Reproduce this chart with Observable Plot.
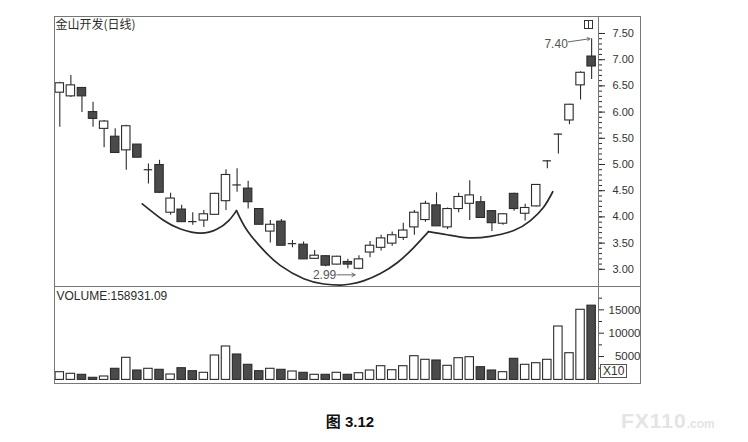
<!DOCTYPE html>
<html><head><meta charset="utf-8">
<script src="https://cdn.jsdelivr.net/npm/d3@7"></script>
<script src="https://cdn.jsdelivr.net/npm/@observablehq/plot@0.6"></script>
<style>
body{margin:0;background:#fff;}
#wrap{position:relative;width:748px;height:442px;overflow:hidden;font-family:"Liberation Sans",Arial,sans-serif;color:#2b2b2b;}
.abs{position:absolute;}
</style></head><body><div id="wrap"></div>
<script>
// ---- data ----
const title = "金山开发(日线)";
const volumeTitle = "VOLUME:158931.09";
const volumeUnit = "X10";
const caption = "图 3.12";
const watermark = "FX110";
const watermarkSuffix = ".com";

const opens  = [6.37,6.30,6.46,6.00,5.68,5.53,5.27,5.38,4.90,4.99,4.08,4.14,3.92,3.93,4.04,4.30,4.62,4.54,4.15,3.72,3.91,3.49,3.47,3.20,3.25,3.09,3.14,3.01,3.32,3.41,3.49,3.60,3.80,3.94,4.22,3.80,4.15,4.25,4.28,4.11,3.87,4.44,4.06,4.20,5.07,5.58,5.84,6.51,7.06];
const highs  = [6.57,6.70,6.47,6.19,5.84,5.68,5.75,5.38,5.01,5.08,4.45,4.22,4.08,4.12,4.45,4.90,4.92,4.68,4.16,3.93,3.95,3.55,3.52,3.36,3.26,3.25,3.19,3.26,3.53,3.65,3.71,3.88,4.12,4.30,4.46,4.17,4.45,4.69,4.39,4.12,4.06,4.45,4.24,4.62,5.07,5.58,6.15,6.77,7.40];
const lows   = [5.71,6.28,5.99,5.71,5.32,5.21,4.89,5.13,4.63,4.45,4.03,3.90,3.84,3.80,4.03,4.12,4.47,4.15,3.85,3.50,3.45,3.41,3.19,3.19,3.05,3.08,3.01,2.99,3.22,3.35,3.44,3.55,3.65,3.90,3.82,3.76,4.08,3.93,3.98,3.72,3.84,4.11,3.92,4.19,4.92,5.20,5.76,6.23,6.62];
const closes = [6.55,6.51,6.30,5.87,5.82,5.22,5.73,5.13,4.90,4.46,4.35,3.90,3.91,4.05,4.44,4.80,4.61,4.28,3.85,3.85,3.45,3.49,3.19,3.26,3.07,3.24,3.09,3.19,3.45,3.59,3.65,3.74,4.08,4.25,3.82,4.15,4.38,4.41,3.98,3.88,4.05,4.15,4.17,4.61,5.07,5.58,6.14,6.75,6.87];
const volumes = [1650,1306,1092,450,728,2377,4732,2013,2377,2162,1156,2505,1863,1520,5224,7151,5438,3233,1863,2377,2162,1798,1520,1092,1092,1520,1092,1434,2013,2933,2077,2933,5074,4303,4153,3019,4646,4860,2719,2013,1650,4518,3233,3575,4303,11433,5716,15008,15893];

const priceTicks = [3.00,3.50,4.00,4.50,5.00,5.50,6.00,6.50,7.00,7.50];
const priceMinorTicks = d3.range(30, 76).map(d => d / 10);
const volumeTicks = [5000,10000,15000];
const volumeMinorTicks = [2500,7500,12500,17500];

// hand-drawn cup & handle curves, in (candle index, price)
const cupLeft   = [[7.44,4.25],[9.39,3.93],[10.89,3.77],[12.70,3.69],[14.21,3.77],[15.25,3.93],[15.95,4.12]];
const cupMain   = [[15.95,4.12],[16.91,3.74],[18.41,3.36],[19.92,3.07],[22.02,2.82],[23.83,2.72],[25.33,2.70],[26.24,2.72],[27.41,2.78],[28.94,2.92],[30.48,3.13],[31.92,3.41],[33.28,3.72]];
const cupHandle = [[33.28,3.72],[34.96,3.66],[36.91,3.60],[38.87,3.63],[40.97,3.74],[42.48,3.93],[43.68,4.19],[44.49,4.48]];

// price notes: candle index and the value written
const lowNote  = [{i: 27, value: 2.99, text: "2.99"}];
const highNote = [{i: 48, value: 7.40, text: "7.40"}];

// ---- build ----
const ink = "#2b2b2b", down = "#4a4a4a", frameC = "#777";
const candles = opens.map((o, i) => ({i, o, h: highs[i], l: lows[i], c: closes[i], v: volumes[i]}));
const bodies = candles.filter(d => Math.abs(d.c - d.o) > 0.015);
const dojis = candles.filter(d => Math.abs(d.c - d.o) <= 0.015);
const hw = 0.38;
const toPts = (arr) => arr.map(([x, y]) => ({x, y}));
const xDomain = [-0.478, 48.62];

const price = Plot.plot({
  width: 748, height: 287,
  marginLeft: 54, marginRight: 150, marginTop: 16, marginBottom: 1,
  x: {domain: xDomain, axis: null},
  y: {domain: [2.672, 7.824], label: null},
  style: {fontFamily: "Liberation Sans, Arial, sans-serif", color: ink, background: "transparent", overflow: "visible"},
  marks: [
    Plot.frame({stroke: frameC}),
    Plot.axisY(priceMinorTicks, {anchor: "right", tickSize: 3, fill: "none", stroke: ink, label: null}),
    Plot.axisY(priceTicks, {anchor: "right", tickSize: 6, tickPadding: 8, tickFormat: d => d.toFixed(2), fontSize: 11, fill: "#333", stroke: ink, label: null}),
    Plot.line(toPts(cupLeft), {x: "x", y: "y", curve: "natural", stroke: ink, strokeWidth: 1.7}),
    Plot.line(toPts(cupMain), {x: "x", y: "y", curve: "natural", stroke: ink, strokeWidth: 1.7}),
    Plot.line(toPts(cupHandle), {x: "x", y: "y", curve: "natural", stroke: ink, strokeWidth: 1.7}),
    Plot.ruleX(candles, {x: "i", y1: "l", y2: "h", stroke: ink, strokeWidth: 1.1}),
    Plot.rect(bodies, {x1: d => d.i - hw, x2: d => d.i + hw, y1: d => Math.min(d.o, d.c), y2: d => Math.max(d.o, d.c),
      fill: d => d.c >= d.o ? "white" : down, stroke: ink, strokeWidth: 1.1}),
    Plot.ruleY(dojis, {y: "c", x1: d => d.i - hw, x2: d => d.i + hw, stroke: ink, strokeWidth: 1.2}),
    Plot.arrow(lowNote, {x1: d => d.i - 2.0, x2: d => d.i - 0.35, y1: "value", y2: "value", dy: 5, stroke: "#555", strokeWidth: 0.9, headLength: 6, bend: 0}),
    Plot.text(lowNote, {x: d => d.i - 2.05, y: "value", text: "text", dy: 5, textAnchor: "end", fontSize: 12, fill: "#555"}),
    Plot.arrow(highNote, {x1: d => d.i - 2.1, x2: d => d.i - 0.15, y1: d => d.value - 0.06, y2: "value", stroke: "#555", strokeWidth: 0.9, headLength: 5, bend: 0}),
    Plot.text(highNote, {x: d => d.i - 2.15, y: d => d.value - 0.11, text: "text", textAnchor: "end", fontSize: 12, fill: "#555"}),
    Plot.text([title], {frameAnchor: "top-left", dx: 1, dy: 4, fontSize: 12, fontFamily: "Noto Sans CJK SC", fill: ink})
  ]
});

const vol = Plot.plot({
  width: 748, height: 98,
  marginLeft: 54, marginRight: 150, marginTop: 0, marginBottom: 1,
  x: {domain: xDomain, axis: null},
  y: {domain: [-771, 19997], label: null},
  style: {fontFamily: "Liberation Sans, Arial, sans-serif", color: ink, background: "transparent", overflow: "visible"},
  marks: [
    Plot.frame({stroke: frameC}),
    Plot.axisY(volumeMinorTicks, {anchor: "right", tickSize: 3, fill: "none", stroke: ink, label: null}),
    Plot.axisY(volumeTicks, {anchor: "right", tickSize: 5, tickPadding: 37, textAnchor: "end", tickFormat: d => String(d), fontSize: 11.5, fill: "#333", stroke: ink, label: null}),
    Plot.rect(candles, {x1: d => d.i - hw, x2: d => d.i + hw, y1: 0, y2: "v",
      fill: d => d.c < d.o ? down : "white", stroke: ink, strokeWidth: 1.1}),
    Plot.text([volumeTitle], {frameAnchor: "top-left", dx: 2, dy: 5, fontSize: 12, fill: ink})
  ]
});

const wrap = document.getElementById("wrap");
function place(el, left, top) { el.classList.add("abs"); el.style.left = left + "px"; el.style.top = top + "px"; wrap.appendChild(el); return el; }
place(price, 0, 0);
place(vol, 0, 286);

const outer = document.createElement("div");
outer.style.cssText = `width:587px;height:368px;border:1px solid ${frameC};box-sizing:border-box;pointer-events:none;`;
place(outer, 54, 16);
const sep = document.createElement("div");
sep.style.cssText = `width:587px;height:1px;background:${frameC};`;
place(sep, 54, 286);

// small window-toggle icon in the top right corner of the price panel
const icon = document.createElement("div");
icon.style.cssText = "width:9px;height:9px;border:1px solid #333;box-sizing:border-box;background:linear-gradient(to right,transparent 3px,#333 3px,#333 4px,transparent 4px);";
place(icon, 584, 20);

const unit = document.createElement("div");
unit.textContent = volumeUnit;
unit.style.cssText = "border:1px solid #555;font-size:12px;line-height:12px;padding:0 2px;color:#333;background:#fff;";
place(unit, 600, 364);

const cap = document.createElement("div");
cap.textContent = caption;
cap.style.cssText = "width:120px;text-align:center;font-weight:bold;font-size:15px;line-height:15px;font-family:'Liberation Sans','Noto Sans CJK SC',sans-serif;color:#111;";
place(cap, 290, 414);

const wm = document.createElement("div");
wm.innerHTML = `<span style="font-size:21px;letter-spacing:1px;">${watermark}</span><span style="font-size:12px;">${watermarkSuffix}</span>`;
wm.style.cssText = "font-weight:bold;color:#e4e4e4;line-height:22px;white-space:nowrap;";
place(wm, 621, 410);
</script></body></html>
